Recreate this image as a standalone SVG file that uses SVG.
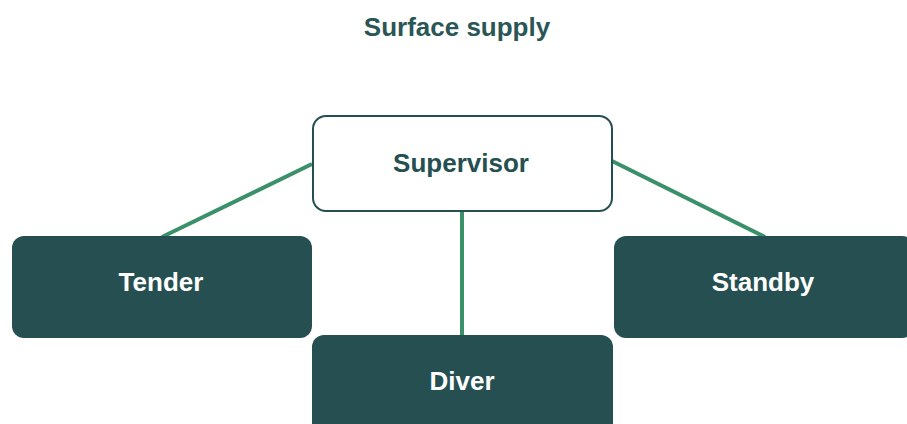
<svg xmlns="http://www.w3.org/2000/svg" width="907" height="424" viewBox="0 0 907 424">
<style>
.t{font-family:"Liberation Sans",Arial,sans-serif;font-weight:bold;font-size:26px;text-anchor:middle;dominant-baseline:central}
.dark{fill:#254f50}
.lbl{fill:#ffffff}
.edge{stroke:#3a9068;stroke-width:4;fill:none}
</style>
<rect width="907" height="424" fill="#ffffff"/>
<text class="t" x="457" y="27" fill="#2a5656">Surface supply</text>
<g id="connectors">
<line class="edge" x1="312" y1="164" x2="162" y2="237"/>
<line class="edge" x1="612" y1="161" x2="765" y2="237"/>
<line class="edge" x1="462" y1="212" x2="462" y2="336"/>
</g>
<g id="supervisor">
<rect x="313" y="116" width="299" height="95" rx="13" fill="#ffffff" stroke="#254f50" stroke-width="2"/>
<text class="t" x="461" y="163" fill="#254f50">Supervisor</text>
</g>
<g id="tender">
<rect class="dark" x="12" y="236" width="300" height="102" rx="12"/>
<text class="t lbl" x="161" y="282">Tender</text>
</g>
<g id="standby">
<rect class="dark" x="614" y="236" width="300" height="102" rx="12"/>
<text class="t lbl" x="763" y="282">Standby</text>
</g>
<g id="diver">
<rect class="dark" x="312" y="335" width="301" height="102" rx="12"/>
<text class="t lbl" x="462" y="381">Diver</text>
</g>
</svg>
